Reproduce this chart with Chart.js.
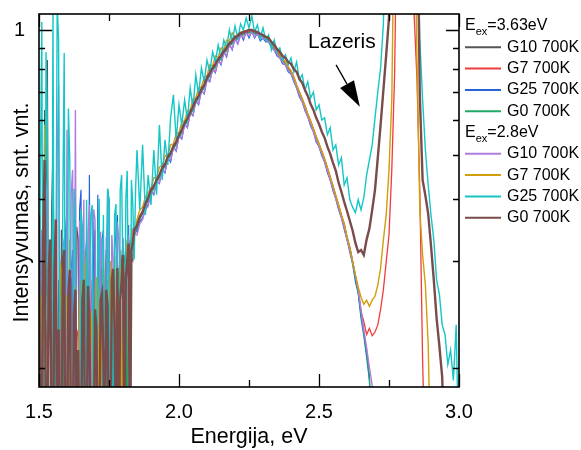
<!DOCTYPE html>
<html><head><meta charset="utf-8">
<script src="https://cdn.jsdelivr.net/npm/chart.js@4.4.1/dist/chart.umd.min.js"></script>
<style>html,body{margin:0;padding:0;background:#fff;}canvas{display:block;}</style>
</head><body>
<canvas id="c" width="581" height="450"></canvas>
<script>
// Photon energy grid, eV
const ENERGY = [
1.50,1.51,1.52,1.53,1.54,1.55,1.56,1.57,1.58,1.59,
1.60,1.61,1.62,1.63,1.64,1.65,1.66,1.67,1.68,1.69,
1.70,1.71,1.72,1.73,1.74,1.75,1.76,1.77,1.78,1.79,
1.80,1.81,1.82,1.83,1.84,1.85,1.86,1.87,1.88,1.89,
1.90,1.91,1.92,1.93,1.94,1.95,1.96,1.97,1.98,1.99,
2.00,2.01,2.02,2.03,2.04,2.05,2.06,2.07,2.08,2.09,
2.10,2.11,2.12,2.13,2.14,2.15,2.16,2.17,2.18,2.19,
2.20,2.21,2.22,2.23,2.24,2.25,2.26,2.27,2.28,2.29,
2.30,2.31,2.32,2.33,2.34,2.35,2.36,2.37,2.38,2.39,
2.40,2.41,2.42,2.43,2.44,2.45,2.46,2.47,2.48,2.49,
2.50,2.51,2.52,2.53,2.54,2.55,2.56,2.57,2.58,2.59,
2.60,2.61,2.62,2.63,2.64,2.65,2.66,2.67,2.68,2.69,
2.70,2.71,2.72,2.73,2.74,2.75,2.76,2.77,2.78,2.79,
2.80,2.81,2.82,2.83,2.84,2.85,2.86,2.87,2.88,2.89,
2.90,2.91,2.92,2.93,2.94,2.95,2.96,2.97,2.98,2.99,
3.00];
// extra sampling points in the noisy low-energy part
const ENERGY_MID = [
1.505,1.515,1.525,1.535,1.545,1.555,1.565,1.575,1.585,1.595,
1.605,1.615,1.625,1.635,1.645,1.655,1.665,1.675,1.685,1.695,
1.705,1.715,1.725,1.735,1.745,1.755,1.765,1.775,1.785,1.795,
1.805,1.815,1.825,1.835,1.845];

// Normalised intensity, Eex = 3.63 eV
const G10_363 = [
.255,.15,.635,.840,.15,.512,.15,.277,.345,.15,
.302,.15,.255,.15,.330,.15,.237,.302,.15,.255,
.345,.15,.277,.15,.315,.246,.283,.15,.295,.266,
.312,.255,.330,.302,.342,.347,.364,.372,.386,.398,
.414,.422,.435,.446,.462,.472,.489,.499,.518,.529,
.549,.564,.585,.598,.621,.638,.664,.678,.705,.721,
.750,.772,.794,.812,.836,.850,.875,.890,.916,.927,
.949,.954,.971,.977,.983,.988,.988,.983,.977,.966,
.966,.954,.943,.922,.901,.880,.860,.840,.826,.803,
.785,.759,.725,.697,.671,.646,.618,.595,.570,.546,
.526,.507,.486,.464,.444,.424,.404,.386,.368,.353,
.333,.318,.299,.281,.264,.243,.226,.211,.195,.15,
.15,.15,.15,.15,.15,.15,.15,.15,.15,.15,
.15,.15,.15,.15,.15,.15,.15,.15,.15,.15,
.15,.15,.15,.15,.15,.15,.15,.15,.15,.15,
.15];
const G10_363_MID = [
.300,.15,.260,.15,.380,.230,.15,.15,.262,.15,
.15,.280,.15,.350,.15,.270,.15,.15,.240,.15,
.15,.300,.15,.262,.15,.15,.290,.15,.15,.280,
.280,.15,.315,.300,.345];
const G7_363 = [
.15,.277,.15,.237,.15,.255,.15,.212,.289,.15,
.246,.15,.266,.15,.228,.302,.15,.255,.15,.277,
.228,.15,.289,.15,.261,.271,.15,.283,.255,.299,
.289,.315,.299,.333,.337,.352,.365,.374,.388,.400,
.416,.424,.437,.448,.464,.474,.492,.502,.521,.532,
.552,.567,.588,.601,.624,.642,.667,.682,.709,.725,
.754,.776,.798,.817,.840,.855,.880,.895,.922,.933,
.954,.960,.977,.983,.988,.994,.994,.988,.983,.971,
.971,.960,.949,.927,.906,.885,.865,.845,.831,.807,
.790,.763,.729,.701,.675,.649,.621,.598,.573,.549,
.529,.509,.489,.467,.446,.426,.406,.388,.370,.355,
.334,.319,.300,.282,.265,.244,.235,.224,.229,.223,
.226,.232,.246,.266,.299,.337,.462,.772,2.5,2.5,
2.5,2.5,2.5,2.5,1.086,.750,.418,.205,.15,.15,
.15,.15,.15,.15,.15,.15,.15,.15,.15,.15,
.15];
const G7_363_MID = [
.240,.15,.210,.15,.15,.262,.15,.15,.235,.15,
.15,.250,.15,.222,.15,.15,.270,.15,.240,.15,
.15,.255,.15,.15,.275,.15,.262,.15,.15,.282,
.15,.300,.285,.320,.340];
const G25_363 = [
.315,.15,.398,.15,.277,.15,.345,.15,.302,.15,
.379,.15,.315,.237,.15,.418,.15,.330,.450,.15,
.302,.408,.15,.345,.255,.398,.15,.315,.370,.266,
.330,.302,.353,.315,.347,.342,.358,.365,.379,.390,
.416,.408,.437,.431,.464,.455,.492,.481,.521,.509,
.552,.543,.588,.576,.624,.615,.667,.653,.709,.693,
.754,.742,.798,.781,.840,.817,.880,.855,.922,.890,
.954,.922,.977,.943,.988,.954,.994,.954,.983,.938,
.954,.933,.933,.901,.890,.860,.850,.822,.817,.785,
.776,.742,.717,.682,.664,.632,.611,.582,.564,.534,
.521,.497,.481,.455,.439,.416,.400,.379,.365,.346,
.330,.312,.296,.275,.262,.238,.223,.207,.192,.15,
.15,.15,.15,.15,.15,.15,.15,.15,.15,.15,
.15,.15,.15,.15,.15,.15,.15,.15,.15,.15,
.15,.15,.15,.15,.15,.15,.15,.15,.15,.15,
.15];
const G25_363_MID = [
.15,.270,.15,.330,.15,.300,.15,.260,.15,.345,
.15,.290,.15,.15,.380,.15,.300,.15,.15,.360,
.15,.15,.330,.15,.420,.15,.15,.340,.15,.300,
.15,.320,.15,.330,.345];
const G0_363 = [
.15,.302,.15,.345,.15,.255,.289,.15,.237,.315,
.15,.266,.15,.289,.15,.246,.315,.15,.255,.15,
.283,.237,.15,.277,.15,.289,.255,.302,.15,.308,
.283,.318,.295,.330,.336,.346,.362,.374,.386,.400,
.412,.420,.433,.444,.460,.469,.486,.497,.515,.526,
.546,.561,.582,.595,.618,.635,.660,.675,.701,.717,
.746,.767,.790,.807,.831,.845,.870,.885,.911,.922,
.943,.949,.966,.971,.977,.983,.983,.977,.971,.960,
.960,.949,.938,.916,.895,.875,.855,.836,.822,.798,
.781,.754,.721,.693,.667,.642,.615,.592,.567,.543,
.523,.504,.484,.462,.442,.422,.402,.384,.367,.352,
.331,.317,.298,.279,.263,.242,.225,.210,.194,.15,
.15,.15,.15,.15,.15,.15,.15,.15,.15,.15,
.15,.15,.15,.15,.15,.15,.15,.15,.15,.15,
.15,.15,.15,.15,.15,.15,.15,.15,.15,.15,
.15];
const G0_363_MID = [
.280,.15,.250,.15,.240,.15,.15,.300,.15,.15,
.260,.15,.240,.15,.290,.15,.15,.270,.15,.230,
.15,.15,.290,.15,.255,.15,.15,.15,.280,.15,
.300,.15,.320,.325,.345];

// Normalised intensity, Eex = 2.8 eV
const G10_28 = [
.15,.345,.15,.439,.15,.302,.15,.729,.15,.330,
.570,.15,.462,.635,.15,.315,.398,.15,.388,.289,
.362,.15,.342,.289,.330,.255,.337,.15,.358,.289,
.333,.308,.337,.312,.340,.337,.355,.362,.379,.386,
.414,.410,.435,.433,.462,.457,.489,.486,.518,.512,
.549,.546,.585,.579,.621,.618,.664,.656,.705,.697,
.750,.746,.794,.785,.836,.822,.875,.860,.916,.895,
.949,.922,.971,.954,.983,.966,.988,.960,.977,.954,
.954,.943,.933,.911,.890,.870,.850,.831,.817,.794,
.776,.750,.717,.690,.664,.638,.611,.588,.564,.540,
.521,.502,.481,.460,.439,.420,.400,.383,.365,.350,
.330,.315,.299,.282,.266,.246,.228,.214,.200,.189,
.15,.15,.15,.15,.15,.15,.15,.15,.15,.15,
.15,.15,.15,.15,.15,.15,.15,.15,.15,.15,
.15,.15,.15,.15,.15,.15,.15,.15,.15,.15,
.15];
const G10_28_MID = [
.300,.15,.400,.15,.270,.15,.500,.15,.320,.15,
.15,.410,.15,.15,.360,.15,.15,.340,.15,.380,
.15,.310,.15,.15,.350,.15,.300,.15,.330,.15,
.15,.320,.15,.345,.338];
const G7_28 = [
.15,.255,.585,.15,.315,.15,.228,.15,.289,.15,
.255,.330,.15,.237,.15,.277,.15,.315,.15,.246,
.15,.266,.15,.302,.228,.277,.15,.308,.266,.315,
.295,.330,.308,.345,.342,.362,.379,.384,.404,.412,
.422,.444,.444,.469,.472,.497,.499,.526,.529,.558,
.561,.595,.598,.632,.635,.675,.678,.717,.721,.763,
.767,.817,.812,.860,.855,.901,.895,.943,.938,.983,
.960,.977,.983,.994,.994,1.0,1.0,.994,.988,.977,
.971,.960,.949,.927,.906,.885,.865,.845,.831,.807,
.790,.763,.729,.701,.675,.649,.621,.598,.573,.549,
.529,.509,.489,.467,.446,.426,.406,.388,.370,.355,
.334,.319,.299,.283,.269,.258,.251,.255,.249,.255,
.259,.271,.291,.330,.370,.462,.671,2.5,2.5,2.5,
2.5,2.5,2.5,2.5,2.5,.840,.379,.308,.271,.216,
.15,.15,.15,.15,.15,.15,.15,.15,.15,.15,
.15];
const G7_28_MID = [
.260,.15,.15,.280,.15,.240,.15,.300,.15,.260,
.15,.15,.270,.15,.250,.15,.290,.15,.230,.15,
.280,.15,.240,.15,.15,.300,.15,.15,.275,.15,
.15,.310,.15,.335,.350];
const G25_28 = [
.15,1.048,.15,.601,.15,1.16,.255,.943,.15,.875,
.15,.486,.15,.345,.15,.379,.15,.398,.255,.388,
.15,.330,.15,.370,.15,.398,.255,.370,.15,.418,
.277,.398,.228,.439,.302,.512,.379,.526,.370,.450,
.388,.512,.408,.585,.439,.540,.474,.608,.690,.540,
.653,.585,.671,.601,.717,.642,.772,.690,.803,.742,
.840,.785,.880,.831,.916,.850,.943,.901,1.0,.933,
1.024,.954,1.036,1.0,1.073,1.012,1.086,.988,1.030,.954,
1.012,.943,.971,.890,.943,.880,.901,.840,.865,.817,
.850,.785,.831,.750,.772,.709,.742,.678,.701,.635,
.653,.601,.608,.555,.576,.512,.526,.474,.492,.428,
.444,.398,.384,.374,.398,.379,.402,.450,.486,.526,
.608,.701,.803,1.036,2.5,2.5,2.5,2.5,2.5,2.5,
2.5,2.5,2.5,2.5,2.5,2.5,.943,.671,.512,.428,
.370,.330,.277,.261,.232,.224,.202,.212,.192,.232,
.15];
const G25_28_MID = [
.450,.15,.880,.15,.15,.15,1.16,.15,.390,.15,
.640,.15,.420,.15,.15,.350,.15,.15,.370,.15,
.15,.400,.15,.15,.420,.15,.15,.390,.15,.450,
.15,.460,.15,.390,.420];
const G0_28 = [
.370,.15,.486,.15,.330,.15,.362,.228,.15,.315,
.15,.289,.15,.266,.212,.15,.277,.15,.237,.15,
.246,.15,.255,.205,.266,.15,.277,.228,.291,.255,
.308,.277,.324,.315,.345,.352,.367,.376,.390,.402,
.418,.426,.439,.450,.467,.476,.494,.504,.523,.534,
.555,.570,.592,.605,.628,.646,.671,.686,.713,.729,
.759,.781,.803,.822,.845,.860,.885,.901,.927,.938,
.960,.966,.983,.988,.994,1.0,1.0,.994,.988,.977,
.971,.960,.954,.933,.916,.895,.880,.860,.850,.831,
.822,.798,.785,.754,.738,.709,.686,.656,.635,.608,
.588,.564,.546,.521,.502,.479,.460,.433,.414,.394,
.377,.360,.344,.325,.312,.315,.308,.330,.347,.379,
.418,.492,.585,.709,.865,1.073,2.5,2.5,2.5,2.5,
2.5,2.5,2.5,2.5,2.5,2.5,.690,.439,.406,.372,
.321,.277,.238,.215,.194,.15,.15,.15,.15,.15,
.15];
const G0_28_MID = [
.15,.330,.15,.290,.15,.280,.15,.15,.300,.15,
.262,.15,.240,.15,.15,.255,.15,.270,.15,.15,
.230,.15,.262,.15,.250,.15,.290,.15,.15,.275,
.15,.300,.15,.325,.348];

const SERIES_LABELS = ['G10 700K','G7 700K','G25 700K','G0 700K','G10 700K','G7 700K','G25 700K','G0 700K'];
const SERIES_VALUES = [G10_363, G7_363, G25_363, G0_363, G10_28, G7_28, G25_28, G0_28];
const SERIES_VALUES_MID = [G10_363_MID, G7_363_MID, G25_363_MID, G0_363_MID, G10_28_MID, G7_28_MID, G25_28_MID, G0_28_MID];
const SERIES_COLORS = ['#555555','#f03c3c','#2563dc','#20aa66','#b07be0','#d29e0c','#14c6c6','#7a4b4b'];
const SERIES_WIDTHS = [1.2,1.3,1.2,1.2,1.4,1.4,1.4,2.4];
const EXCITATIONS = ['3.63','2.8'];

const X_LABELS = [1.5, 2.0, 2.5, 3.0];
const X_MINOR = [1.75, 2.25, 2.75];
const Y_LABELS = [1.0];
const Y_MINOR = [0.9, 0.8, 0.7, 0.6, 0.5, 0.4, 0.3, 0.2];
const Y_OFFSET = 0.1;          // log axis of (I - 0.1)
const Y_LOW = 0.1881, Y_HIGH = 1.0987;

const ANNOT_TEXT = 'Lazeris';
const ANNOT_TEXT_AT = [2.461, 0.901];
const ANNOT_ARROW = [[2.561, 0.817], [2.646, 0.646]];

const FONT = '"Liberation Sans", Arial, Helvetica, sans-serif';

function seriesPoints(main, mid) {
  const pts = ENERGY.map((e, k) => ({x: e, y: main[k] - Y_OFFSET}))
    .concat(ENERGY_MID.map((e, k) => ({x: e, y: mid[k] - Y_OFFSET})));
  pts.sort((a, b) => a.x - b.x);
  return pts;
}

const datasets = SERIES_VALUES.map((vals, i) => ({
  label: SERIES_LABELS[i],
  data: seriesPoints(vals, SERIES_VALUES_MID[i]),
  borderColor: SERIES_COLORS[i],
  backgroundColor: SERIES_COLORS[i],
  borderWidth: SERIES_WIDTHS[i],
  pointRadius: 0,
  tension: 0,
  fill: false,
  clip: 0,
  order: SERIES_VALUES.length - 1 - i
}));

const decor = {
  id: 'decor',
  afterDraw(chart) {
    const {ctx, chartArea: a, scales: {x: xs, y: ys}} = chart;
    ctx.save();
    ctx.strokeStyle = '#000';
    ctx.lineWidth = 1.3;
    ctx.beginPath();
    const xt = X_LABELS.map(v => [v, 13]).concat(X_MINOR.map(v => [v, 7]));
    xt.forEach(([v, len]) => {
      const px = Math.round(xs.getPixelForValue(v)) + 0.5;
      ctx.moveTo(px, a.bottom); ctx.lineTo(px, a.bottom - len);
      ctx.moveTo(px, a.top); ctx.lineTo(px, a.top + len);
    });
    const yt = Y_LABELS.map(v => [v, 13]).concat(Y_MINOR.map(v => [v, 6]));
    yt.forEach(([v, len]) => {
      const py = Math.round(ys.getPixelForValue(v - Y_OFFSET)) + 0.5;
      ctx.moveTo(a.left, py); ctx.lineTo(a.left + len, py);
      ctx.moveTo(a.right, py); ctx.lineTo(a.right - len, py);
    });
    ctx.stroke();
    ctx.lineWidth = 1.6;
    ctx.strokeRect(a.left, a.top, a.right - a.left, a.bottom - a.top);

    // annotation
    ctx.fillStyle = '#000';
    ctx.font = '21px ' + FONT;
    ctx.textAlign = 'left';
    ctx.textBaseline = 'alphabetic';
    ctx.fillText(ANNOT_TEXT, xs.getPixelForValue(ANNOT_TEXT_AT[0]), ys.getPixelForValue(ANNOT_TEXT_AT[1] - Y_OFFSET));
    const x1 = xs.getPixelForValue(ANNOT_ARROW[0][0]), y1 = ys.getPixelForValue(ANNOT_ARROW[0][1] - Y_OFFSET);
    const x2 = xs.getPixelForValue(ANNOT_ARROW[1][0]), y2 = ys.getPixelForValue(ANNOT_ARROW[1][1] - Y_OFFSET);
    const L = Math.hypot(x2 - x1, y2 - y1), ux = (x2 - x1) / L, uy = (y2 - y1) / L;
    const hl = 26, hw = 8;
    const bx = x2 - ux * hl, by = y2 - uy * hl;
    ctx.lineWidth = 1.3;
    ctx.beginPath(); ctx.moveTo(x1, y1); ctx.lineTo(bx, by); ctx.stroke();
    ctx.beginPath();
    ctx.moveTo(x2, y2);
    ctx.lineTo(bx - uy * hw, by + ux * hw);
    ctx.lineTo(bx + uy * hw, by - ux * hw);
    ctx.closePath(); ctx.fill();

    // legend
    const lx = a.right + 6, step = 21.3;
    let row = 0;
    const y0 = a.top + 12;
    EXCITATIONS.forEach((exc, g) => {
      const yy = y0 + row * step;
      ctx.fillStyle = '#000';
      ctx.textBaseline = 'middle';
      ctx.font = '16px ' + FONT;
      ctx.fillText('E', lx, yy);
      let w = ctx.measureText('E').width;
      ctx.font = '11px ' + FONT;
      ctx.fillText('ex', lx + w, yy + 6);
      w += ctx.measureText('ex').width;
      ctx.font = '16px ' + FONT;
      ctx.fillText('=' + exc + 'eV', lx + w, yy);
      row++;
      for (let k = 0; k < 4; k++) {
        const i = g * 4 + k;
        const yl = y0 + row * step;
        ctx.strokeStyle = SERIES_COLORS[i];
        ctx.lineWidth = 2;
        ctx.beginPath(); ctx.moveTo(lx, yl); ctx.lineTo(lx + 36, yl); ctx.stroke();
        ctx.fillStyle = '#000';
        ctx.fillText(SERIES_LABELS[i], lx + 42, yl);
        row++;
      }
    });
    ctx.restore();
  }
};

new Chart(document.getElementById('c'), {
  type: 'line',
  data: {datasets},
  options: {
    responsive: false,
    animation: false,
    devicePixelRatio: 1,
    layout: {padding: {left: 0, right: 122, top: 14, bottom: 0}},
    plugins: {legend: {display: false}, tooltip: {enabled: false}},
    scales: {
      x: {
        type: 'linear', min: 1.5, max: 3.0,
        grid: {display: false, drawTicks: false},
        border: {display: false},
        afterBuildTicks: s => { s.ticks = X_LABELS.map(v => ({value: v})); },
        afterFit: s => { s.height = 63; },
        ticks: {autoSkip: false, maxRotation: 0, padding: 13, color: '#000',
          font: {family: FONT, size: 20}, callback: v => Number(v).toFixed(1)},
        title: {display: true, text: 'Energija, eV', color: '#000',
          font: {family: FONT, size: 21.5}, padding: {top: 0, bottom: 0}}
      },
      y: {
        type: 'logarithmic', min: Y_LOW - Y_OFFSET, max: Y_HIGH - Y_OFFSET,
        grid: {display: false, drawTicks: false},
        border: {display: false},
        afterBuildTicks: s => { s.ticks = Y_LABELS.map(v => ({value: v - Y_OFFSET})); },
        afterFit: s => { s.width = 39; s.paddingTop = 0; s.paddingBottom = 0; },
        ticks: {autoSkip: false, padding: 14, color: '#000',
          font: {family: FONT, size: 20},
          callback: v => String(Math.round((v + Y_OFFSET) * 10) / 10)},
        title: {display: true, text: 'Intensyvumas, snt. vnt.    ', color: '#000',
          font: {family: FONT, size: 21.5}, padding: {top: 9, bottom: 0}}
      }
    }
  },
  plugins: [decor]
});
</script>
</body></html>
